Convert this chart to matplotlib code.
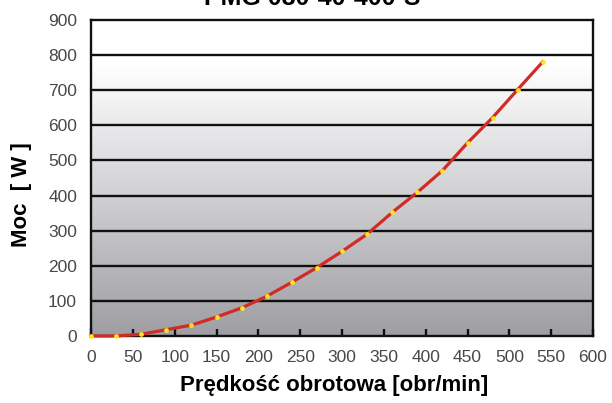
import numpy as np
import matplotlib
matplotlib.use('Agg')
import matplotlib.pyplot as plt
from matplotlib.colors import LinearSegmentedColormap

plt.rcParams['font.family'] = ['Liberation Sans', 'DejaVu Sans']

# speed [obr/min] and power [W]
speed = [0, 30, 60, 90, 120, 150, 180, 210, 240, 270, 300,
         330, 360, 390, 420, 450, 480, 510, 540]
power = [0, 0, 5, 18, 31, 54, 80, 113, 153, 195, 241,
         290, 352, 409, 471, 550, 622, 702, 781]

x_ticks = list(range(0, 601, 50))
y_ticks = list(range(0, 901, 100))

title = 'PMG 080-40-400-S'
x_label = 'Prędkość obrotowa [obr/min]'
y_label = 'Moc  [ W ]'

fig = plt.figure(figsize=(6.12, 4.03), dpi=100)
ax = fig.add_axes([91/612, 1-336/403, (593-91)/612, (336-20)/403])

# background gradient: white at top, grey at bottom
cmap = LinearSegmentedColormap.from_list(
    'bg', [(0.0, '#9e9ea3'), (0.6, '#e2e2e4'), (0.86, '#ffffff'), (1.0, '#ffffff')])
grad = np.linspace(0, 1, 256).reshape(-1, 1)
ax.imshow(grad, extent=[0, 600, 0, 900], origin='lower', aspect='auto',
          cmap=cmap, zorder=0)

for v in y_ticks[1:-1]:
    ax.axhline(v, color='#111111', lw=1.7, zorder=1)

ax.plot(speed, power, color='#d22b25', lw=2.3, zorder=6, clip_on=False)
ax.plot(speed, power, ls='none', marker='o', ms=3.4, color='#ffe81a',
        markeredgewidth=0, zorder=7, clip_on=False)

ax.set_xlim(0, 600)
ax.set_ylim(0, 900)
ax.set_xticks(x_ticks)
ax.set_yticks(y_ticks)
ax.tick_params(axis='x', direction='in', length=5, width=1.7, color='#111111',
               labelsize=12.5, labelcolor='#484848', pad=10)
ax.tick_params(axis='y', length=0, labelsize=12.5, labelcolor='#484848', pad=10)
for s in ax.spines.values():
    s.set_linewidth(1.7)
    s.set_color('#111111')
    s.set_zorder(5)

fig.text(334/612, 1-386/403, x_label, ha='center', va='center',
         fontsize=16, fontweight='bold')
fig.text(22/612, 1-195/403, y_label, ha='center', va='center',
         rotation=90, fontsize=16, fontweight='bold')
fig.text(312/612, 1-5/403, title, ha='center', va='baseline',
         fontsize=18, fontweight='bold')

fig.savefig('out.png', dpi=100)
